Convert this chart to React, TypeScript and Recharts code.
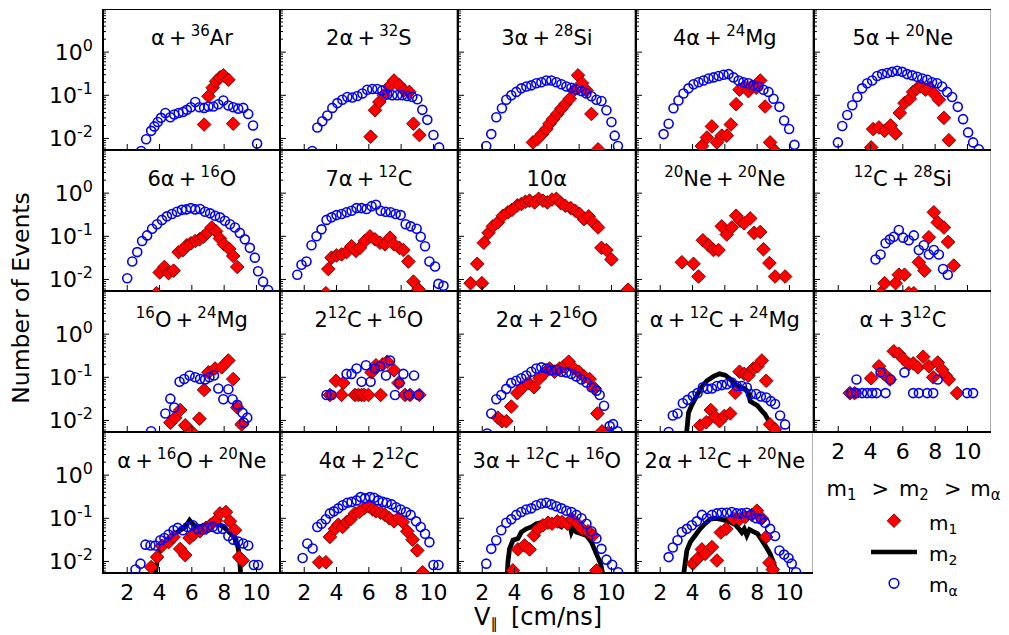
import React from 'react';
import { ComposedChart, Scatter, Line, XAxis, YAxis, ReferenceArea, Legend } from 'recharts';

const FONT = '"DejaVu Sans", sans-serif';

// grid of panels, page px
const X0 = 102.7;
const Y0 = 9.3;
const PW = 177.7;
const PH = 141;
const YW = 100;
const XH = 50;

const X_DOMAIN = [0.5, 11.5];
const Y_DOMAIN = [0.0054, 10];
const X_TICKS = [2, 4, 6, 8, 10];
const Y_TICKS = [
  0.006, 0.007, 0.008, 0.009, 0.01, 0.02, 0.03, 0.04, 0.05, 0.06, 0.07, 0.08, 0.09,
  0.1, 0.2, 0.3, 0.4, 0.5, 0.6, 0.7, 0.8, 0.9, 1, 2, 3, 4, 5, 6, 7, 8, 9, 10,
];

const TITLES = [
  'α+^{36}Ar', '2α+^{32}S', '3α+^{28}Si', '4α+^{24}Mg', '5α+^{20}Ne',
  '6α+^{16}O', '7α+^{12}C', '10α', '^{20}Ne+^{20}Ne', '^{12}C+^{28}Si',
  '^{16}O+^{24}Mg', '2^{12}C+^{16}O', '2α+2^{16}O', 'α+^{12}C+^{24}Mg', 'α+3^{12}C',
  'α+^{16}O+^{20}Ne', '4α+2^{12}C', '3α+^{12}C+^{16}O', '2α+^{12}C+^{20}Ne',
];

// [V, events] pairs
const P01_M1 = [[6.76,0.021],[7.03,0.095],[7.29,0.15],[7.5,0.21],[7.74,0.26],[7.95,0.29],[8.26,0.23],[8.56,0.022]];
const P01_MA = [[2.86,0.0051],[3.17,0.0096],[3.48,0.015],[3.68,0.019],[3.89,0.024],[4.09,0.03],[4.36,0.039],[4.67,0.031],[4.91,0.036],[5.18,0.039],[5.45,0.041],[5.69,0.046],[5.94,0.053],[6.21,0.07],[6.47,0.053],[6.76,0.051],[7.03,0.055],[7.33,0.055],[7.64,0.062],[7.95,0.076],[8.26,0.058],[8.56,0.053],[8.87,0.049],[9.18,0.051],[9.49,0.037],[9.79,0.02],[10.04,0.0076]];

const P02_M1 = [[6.11,0.011],[6.38,0.045],[6.65,0.07],[6.94,0.1],[7.27,0.16],[7.56,0.22],[7.89,0.17],[8.18,0.13],[8.51,0.12],[8.76,0.022],[9.13,0.012]];
const P02_MA = [[2.5,0.0051],[2.81,0.018],[3.12,0.025],[3.43,0.034],[3.74,0.051],[4.05,0.066],[4.36,0.079],[4.67,0.091],[4.98,0.089],[5.29,0.096],[5.6,0.11],[5.9,0.135],[6.21,0.14],[6.52,0.14],[6.83,0.13],[7.14,0.105],[7.45,0.1],[7.76,0.1],[8.07,0.1],[8.38,0.096],[8.69,0.091],[9.0,0.081],[9.31,0.046],[9.62,0.027],[10.0,0.012],[10.35,0.0062]];

const P03_M1 = [[5.14,0.0081],[5.41,0.0096],[5.7,0.0126],[5.97,0.0165],[6.17,0.022],[6.38,0.028],[6.65,0.037],[6.9,0.049],[7.15,0.063],[7.42,0.083],[7.68,0.13],[7.93,0.29],[8.18,0.19],[8.45,0.13],[8.76,0.037],[9.17,0.0056]];
const P03_MA = [[2.25,0.0067],[2.56,0.0126],[2.87,0.031],[3.22,0.05],[3.49,0.079],[3.8,0.1],[4.11,0.12],[4.42,0.145],[4.73,0.16],[5.04,0.17],[5.35,0.19],[5.66,0.2],[5.97,0.22],[6.28,0.22],[6.59,0.2],[6.9,0.18],[7.21,0.16],[7.52,0.15],[7.83,0.135],[8.14,0.125],[8.45,0.11],[8.76,0.095],[9.07,0.079],[9.38,0.074],[9.69,0.045],[10.0,0.024],[10.2,0.0116],[10.4,0.0067]];

const P04_M1 = [[4.58,0.0067],[4.89,0.0105],[5.2,0.019],[5.51,0.0081],[5.81,0.0116],[6.12,0.0116],[6.37,0.021],[6.7,0.062],[6.91,0.135],[7.2,0.16],[7.46,0.125],[7.67,0.16],[7.94,0.15],[8.19,0.22],[8.49,0.055],[8.8,0.0081],[9.11,0.0051]];
const P04_MA = [[2.21,0.0126],[2.52,0.022],[2.82,0.05],[3.13,0.076],[3.44,0.11],[3.75,0.145],[4.06,0.18],[4.37,0.2],[4.68,0.22],[4.99,0.245],[5.3,0.26],[5.61,0.28],[5.92,0.3],[6.23,0.31],[6.54,0.26],[6.85,0.22],[7.15,0.2],[7.46,0.19],[7.77,0.17],[8.08,0.16],[8.39,0.135],[8.7,0.12],[9.01,0.083],[9.38,0.054],[9.67,0.026],[9.98,0.0165],[10.31,0.0071]];

const P05_M1 = [[4.04,0.0062],[4.16,0.0165],[4.52,0.018],[4.87,0.015],[5.24,0.02],[5.55,0.013],[5.81,0.039],[6.1,0.066],[6.43,0.083],[6.64,0.12],[6.89,0.145],[7.13,0.16],[7.4,0.135],[7.67,0.15],[7.92,0.11],[8.23,0.079],[8.54,0.03],[8.85,0.0091]];
const P05_MA = [[1.98,0.0081],[2.25,0.0195],[2.56,0.035],[2.87,0.059],[3.18,0.091],[3.48,0.145],[3.79,0.19],[4.1,0.22],[4.41,0.28],[4.72,0.31],[5.03,0.33],[5.34,0.35],[5.65,0.37],[5.96,0.35],[6.27,0.31],[6.58,0.29],[6.89,0.27],[7.2,0.245],[7.51,0.23],[7.81,0.2],[8.12,0.19],[8.43,0.16],[8.74,0.12],[9.05,0.091],[9.4,0.054],[9.73,0.028],[10.04,0.0138],[10.35,0.0081],[10.7,0.0056]];

const P06_M1 = [[3.81,0.0048],[4.01,0.0145],[4.3,0.0195],[4.56,0.014],[4.87,0.016],[5.18,0.043],[5.45,0.048],[5.69,0.062],[5.94,0.069],[6.21,0.078],[6.47,0.085],[6.72,0.098],[6.96,0.12],[7.23,0.16],[7.5,0.13],[7.74,0.089],[7.99,0.065],[8.32,0.051],[8.56,0.035],[8.81,0.0195]];
const P06_MA = [[2.0,0.0107],[2.31,0.026],[2.62,0.043],[2.92,0.078],[3.23,0.105],[3.54,0.15],[3.85,0.19],[4.15,0.24],[4.46,0.29],[4.77,0.33],[5.08,0.37],[5.38,0.41],[5.65,0.42],[5.94,0.45],[6.21,0.42],[6.51,0.43],[6.82,0.37],[7.13,0.34],[7.44,0.3],[7.74,0.275],[8.05,0.23],[8.36,0.19],[8.67,0.16],[8.97,0.12],[9.28,0.085],[9.59,0.054],[9.9,0.032],[10.1,0.0155],[10.41,0.0089],[10.72,0.0057]];

const P07_M1 = [[3.34,0.0048],[3.49,0.0174],[3.69,0.032],[4.0,0.036],[4.31,0.038],[4.62,0.043],[4.93,0.059],[5.2,0.046],[5.45,0.054],[5.76,0.078],[6.07,0.1],[6.38,0.085],[6.69,0.071],[7.0,0.065],[7.31,0.093],[7.56,0.065],[7.89,0.054],[8.14,0.048],[8.45,0.026],[8.76,0.0089],[9.07,0.0059]];
const P07_MA = [[1.57,0.0129],[1.83,0.022],[2.14,0.026],[2.45,0.062],[2.76,0.1],[3.07,0.145],[3.38,0.24],[3.69,0.275],[4.0,0.31],[4.31,0.33],[4.62,0.36],[4.93,0.39],[5.24,0.45],[5.55,0.45],[5.86,0.43],[6.17,0.5],[6.44,0.54],[6.73,0.39],[7.04,0.37],[7.35,0.36],[7.66,0.33],[7.97,0.31],[8.28,0.19],[8.59,0.17],[8.96,0.15],[9.21,0.098],[9.48,0.059],[9.75,0.026],[10.1,0.02],[10.31,0.0079],[10.62,0.0071]];

const P08_M1 = [[1.28,0.0082],[1.69,0.023],[1.98,0.0082],[2.1,0.071],[2.39,0.12],[2.66,0.17],[2.97,0.21],[3.28,0.3],[3.59,0.36],[3.84,0.41],[4.17,0.52],[4.42,0.56],[4.67,0.63],[4.93,0.67],[5.24,0.61],[5.49,0.74],[5.76,0.67],[6.03,0.61],[6.32,0.71],[6.59,0.74],[6.86,0.59],[7.14,0.51],[7.48,0.45],[7.76,0.39],[8.03,0.33],[8.3,0.25],[8.59,0.29],[8.86,0.21],[9.17,0.16],[9.38,0.054],[9.69,0.048],[10.0,0.029],[11.03,0.0058]];

const P09_M1 = [[3.34,0.025],[4.06,0.023],[4.37,0.0117],[4.64,0.081],[4.99,0.062],[5.3,0.048],[5.61,0.048],[5.81,0.17],[6.12,0.11],[6.43,0.16],[6.7,0.3],[6.95,0.23],[7.2,0.2],[7.57,0.26],[7.81,0.12],[8.19,0.126],[8.39,0.05],[8.76,0.024],[9.11,0.0117],[9.73,0.0117]];

const P10_M1 = [[4.62,0.0048],[4.87,0.0082],[5.55,0.0082],[5.75,0.0129],[6.1,0.0129],[6.37,0.0048],[6.68,0.0048],[6.99,0.025],[7.34,0.016],[7.61,0.095],[7.92,0.36],[8.16,0.21],[8.54,0.16],[8.8,0.074],[9.15,0.021]];
const P10_MA = [[4.31,0.029],[4.62,0.038],[4.93,0.069],[5.2,0.085],[5.44,0.098],[5.75,0.14],[6.02,0.093],[6.37,0.081],[6.68,0.105],[6.99,0.048],[7.3,0.062],[7.61,0.038],[7.92,0.048],[8.23,0.038],[8.49,0.0174],[8.78,0.0129]];

const P11_M1 = [[4.67,0.0089],[4.97,0.0116],[5.28,0.0174],[5.59,0.0077],[6.0,0.0054],[6.47,0.011],[6.76,0.051],[7.03,0.13],[7.44,0.16],[7.85,0.17],[8.26,0.245],[8.56,0.091],[8.81,0.02],[9.08,0.0081]];
const P11_MA = [[3.48,0.0056],[4.36,0.0145],[4.67,0.032],[4.91,0.02],[5.24,0.079],[5.53,0.091],[5.86,0.11],[6.21,0.1],[6.51,0.091],[6.82,0.089],[7.09,0.1],[7.37,0.11],[7.64,0.055],[7.95,0.031],[8.26,0.053],[8.52,0.031],[8.81,0.023],[9.14,0.015],[9.43,0.0116],[9.22,0.0089]];

const P12_M1 = [[3.59,0.039],[3.96,0.083],[4.31,0.039],[4.42,0.074],[5.14,0.039],[5.35,0.039],[5.55,0.039],[5.7,0.039],[5.97,0.039],[6.17,0.13],[6.44,0.19],[6.73,0.039],[6.86,0.2],[7.14,0.23],[7.56,0.145],[7.83,0.074],[8.24,0.039],[8.55,0.039],[9.13,0.039]];
const P12_MA = [[3.38,0.039],[3.69,0.039],[4.62,0.12],[4.93,0.12],[5.24,0.16],[5.55,0.079],[5.82,0.19],[6.11,0.079],[6.38,0.16],[6.69,0.18],[7.06,0.11],[7.31,0.245],[7.62,0.039],[7.89,0.074],[8.14,0.12],[8.45,0.039],[8.8,0.11],[9.07,0.039]];

const P13_M1 = [[2.97,0.0116],[3.22,0.0096],[3.49,0.0096],[3.8,0.021],[4.17,0.043],[4.52,0.059],[4.87,0.074],[5.2,0.059],[5.55,0.095],[5.86,0.126],[6.17,0.16],[6.48,0.135],[6.79,0.16],[7.06,0.18],[7.35,0.23],[7.68,0.16],[7.97,0.135],[8.3,0.105],[8.65,0.091],[8.96,0.055],[9.13,0.0145],[9.42,0.0056],[9.75,0.005]];
const P13_MA = [[2.31,0.005],[2.56,0.0145],[2.87,0.031],[3.18,0.039],[3.49,0.054],[3.8,0.074],[4.11,0.083],[4.42,0.095],[4.73,0.11],[5.04,0.135],[5.35,0.16],[5.66,0.17],[5.97,0.16],[6.28,0.145],[6.59,0.15],[6.9,0.135],[7.21,0.13],[7.52,0.12],[7.83,0.105],[8.14,0.089],[8.45,0.076],[8.76,0.059],[9.07,0.049],[9.27,0.039],[9.54,0.022],[9.89,0.0074],[10.1,0.0082],[10.37,0.0056]];

const P14_M1 = [[4.47,0.0076],[4.85,0.0091],[5.13,0.0174],[5.4,0.0122],[5.67,0.0096],[5.96,0.0126],[6.33,0.0145],[6.64,0.044],[6.91,0.135],[7.2,0.12],[7.46,0.11],[7.77,0.16],[8.02,0.18],[8.29,0.245],[8.56,0.083],[8.8,0.0081],[9.11,0.0062]];
const P14_M2 = [[3.55,0.002],[3.61,0.0043],[3.75,0.015],[3.96,0.023],[4.27,0.038],[4.58,0.061],[4.89,0.083],[5.3,0.105],[5.67,0.12],[6.02,0.112],[6.33,0.091],[6.64,0.069],[6.95,0.059],[7.26,0.054],[7.46,0.043],[7.57,0.028],[7.77,0.025],[8.02,0.022],[8.29,0.0166],[8.49,0.0138],[8.7,0.01],[8.91,0.0081],[9.11,0.0063],[9.22,0.0043],[9.3,0.002]];
const P14_MA = [[2.52,0.0054],[2.78,0.013],[3.07,0.0145],[3.4,0.025],[3.69,0.03],[4.02,0.037],[4.31,0.043],[4.64,0.059],[4.93,0.054],[5.2,0.055],[5.51,0.063],[5.81,0.066],[6.12,0.069],[6.43,0.076],[6.74,0.063],[7.05,0.063],[7.36,0.058],[7.61,0.041],[7.94,0.041],[8.23,0.036],[8.56,0.034],[8.85,0.028],[9.11,0.024],[9.42,0.013],[9.73,0.0081]];

const P15_M1 = [[2.72,0.043],[3.01,0.043],[4.04,0.095],[4.52,0.18],[4.82,0.12],[5.2,0.089],[5.44,0.4],[5.75,0.35],[6.02,0.27],[6.37,0.2],[6.64,0.21],[6.93,0.17],[7.26,0.3],[7.61,0.18],[7.88,0.1],[8.16,0.22],[8.43,0.15],[8.64,0.11],[8.85,0.089],[9.36,0.043]];
const P15_MA = [[2.8,0.043],[3.13,0.089],[3.13,0.043],[3.48,0.043],[3.79,0.043],[4.1,0.043],[4.37,0.043],[4.62,0.13],[4.93,0.043],[5.24,0.089],[6.1,0.13],[6.64,0.043],[6.99,0.043],[7.51,0.043],[7.88,0.043],[8.16,0.089],[9.98,0.043],[10.35,0.043]];

const P16_M1 = [[3.48,0.0074],[3.85,0.0126],[4.15,0.023],[4.56,0.028],[4.87,0.037],[5.28,0.0195],[5.59,0.014],[5.86,0.035],[6.1,0.042],[6.51,0.05],[6.88,0.06],[7.17,0.071],[7.5,0.089],[7.74,0.13],[8.11,0.14],[8.36,0.085],[8.67,0.053],[8.93,0.0126],[9.14,0.0105]];
const P16_M2 = [[3.7,0.002],[3.74,0.0052],[3.89,0.0126],[4.05,0.0196],[4.26,0.027],[4.56,0.034],[4.87,0.042],[5.28,0.053],[5.59,0.063],[5.86,0.09],[6.1,0.071],[6.41,0.06],[6.72,0.069],[7.03,0.075],[7.33,0.095],[7.64,0.075],[7.95,0.063],[8.26,0.05],[8.56,0.039],[8.81,0.026],[8.93,0.015],[9.02,0.0052],[9.05,0.002]];
const P16_MA = [[2.51,0.0065],[2.82,0.0089],[3.13,0.0245],[3.44,0.0235],[3.74,0.0235],[4.05,0.031],[4.3,0.035],[4.56,0.042],[4.87,0.053],[5.12,0.06],[5.45,0.053],[5.73,0.063],[6.06,0.069],[6.35,0.057],[6.68,0.055],[6.96,0.06],[7.29,0.063],[7.58,0.057],[7.91,0.057],[8.26,0.039],[8.56,0.032],[8.87,0.029],[9.18,0.026],[9.49,0.0235],[9.84,0.0083],[10.1,0.0083]];

const P17_M1 = [[2.93,0.0096],[3.34,0.0096],[3.59,0.037],[3.9,0.057],[4.11,0.071],[4.38,0.063],[4.62,0.082],[4.87,0.095],[5.14,0.13],[5.41,0.14],[5.7,0.17],[5.97,0.19],[6.24,0.16],[6.44,0.145],[6.73,0.135],[7.0,0.12],[7.27,0.1],[7.56,0.085],[7.83,0.1],[8.1,0.082],[8.38,0.05],[8.71,0.032],[9.0,0.018],[9.33,0.0056]];
const P17_MA = [[1.9,0.012],[2.19,0.026],[2.52,0.02],[2.81,0.063],[3.07,0.075],[3.34,0.095],[3.59,0.13],[3.84,0.145],[4.11,0.17],[4.38,0.2],[4.67,0.23],[4.93,0.24],[5.24,0.26],[5.49,0.31],[5.76,0.29],[6.07,0.31],[6.32,0.3],[6.59,0.26],[6.86,0.24],[7.1,0.23],[7.41,0.21],[7.68,0.18],[7.97,0.16],[8.3,0.14],[8.59,0.12],[8.92,0.085],[9.21,0.063],[9.48,0.044],[9.75,0.028],[10.0,0.0083],[10.31,0.0083]];

const P18_M1 = [[3.9,0.0062],[4.21,0.019],[4.62,0.0235],[4.93,0.019],[5.2,0.04],[5.45,0.057],[5.76,0.069],[6.07,0.079],[6.32,0.075],[6.65,0.085],[6.94,0.082],[7.27,0.075],[7.56,0.095],[7.89,0.075],[8.18,0.057],[8.55,0.05],[8.86,0.04],[9.07,0.0062]];
const P18_M2 = [[3.5,0.002],[3.55,0.0047],[3.59,0.0096],[3.69,0.0196],[3.9,0.031],[4.21,0.034],[4.42,0.048],[4.73,0.057],[5.04,0.063],[5.35,0.075],[5.66,0.079],[5.97,0.082],[6.28,0.085],[6.59,0.075],[6.9,0.063],[7.14,0.079],[7.35,0.09],[7.52,0.048],[7.68,0.066],[7.83,0.048],[8.14,0.044],[8.45,0.04],[8.76,0.028],[9.07,0.015],[9.33,0.0089],[9.48,0.0047],[9.55,0.002]];
const P18_MA = [[2.25,0.0089],[2.56,0.0196],[2.87,0.031],[3.18,0.053],[3.49,0.079],[3.8,0.095],[4.11,0.12],[4.42,0.14],[4.73,0.16],[5.04,0.17],[5.35,0.2],[5.66,0.22],[5.97,0.23],[6.28,0.21],[6.59,0.19],[6.9,0.17],[7.21,0.15],[7.52,0.14],[7.83,0.12],[8.14,0.1],[8.45,0.075],[8.76,0.05],[9.07,0.034],[9.38,0.0196],[9.69,0.011],[10.04,0.0084],[10.41,0.0056]];

const P19_M1 = [[4.02,0.0089],[4.31,0.0116],[4.58,0.019],[4.78,0.015],[5.2,0.0215],[5.51,0.0105],[5.75,0.047],[6.08,0.057],[6.54,0.098],[6.91,0.095],[7.26,0.107],[7.67,0.12],[7.98,0.15],[8.29,0.1],[8.56,0.037],[8.76,0.0093],[8.97,0.0065]];
const P19_M2 = [[3.4,0.002],[3.44,0.0047],[3.55,0.0096],[3.65,0.018],[3.86,0.028],[4.16,0.04],[4.47,0.057],[4.78,0.075],[5.09,0.095],[5.4,0.1],[5.71,0.095],[6.02,0.09],[6.33,0.082],[6.64,0.071],[6.91,0.055],[7.05,0.047],[7.2,0.057],[7.36,0.04],[7.53,0.055],[7.73,0.05],[8.02,0.044],[8.29,0.031],[8.56,0.0215],[8.8,0.015],[9.01,0.0096],[9.22,0.0047],[9.3,0.002]];
const P19_MA = [[2.52,0.0126],[2.78,0.021],[3.07,0.031],[3.34,0.048],[3.65,0.057],[3.96,0.069],[4.27,0.085],[4.58,0.12],[4.89,0.1],[5.2,0.12],[5.51,0.13],[5.81,0.135],[6.12,0.135],[6.43,0.14],[6.74,0.13],[7.05,0.13],[7.36,0.135],[7.61,0.12],[7.94,0.1],[8.23,0.095],[8.49,0.079],[8.8,0.057],[9.11,0.039],[9.38,0.018],[9.67,0.0144],[9.94,0.012],[10.14,0.0089],[10.41,0.0056]];

const M1 = [P01_M1, P02_M1, P03_M1, P04_M1, P05_M1, P06_M1, P07_M1, P08_M1, P09_M1, P10_M1,
  P11_M1, P12_M1, P13_M1, P14_M1, P15_M1, P16_M1, P17_M1, P18_M1, P19_M1];
const M2: (number[][] | null)[] = [null, null, null, null, null, null, null, null, null, null,
  null, null, null, P14_M2, null, P16_M2, null, P18_M2, P19_M2];
const MA: (number[][] | null)[] = [P01_MA, P02_MA, P03_MA, P04_MA, P05_MA, P06_MA, P07_MA, null, null, P10_MA,
  P11_MA, P12_MA, P13_MA, P14_MA, P15_MA, P16_MA, P17_MA, P18_MA, P19_MA];

const SERIES_NAMES = ['m1', 'm2', 'mα'];

const toPts = (a: number[][]) => a.map(([x, y]) => ({ x, y }));

const RED = '#ff0000';
const RED_EDGE = '#8b0000';
const BLUE = '#0000ff';

function Diamond(props: any) {
  const { cx, cy } = props;
  if (cx == null || cy == null) return <g />;
  const s = 6.8;
  return (
    <polygon
      points={`${cx},${cy - s} ${cx + s},${cy} ${cx},${cy + s} ${cx - s},${cy}`}
      fill={RED}
      stroke={RED_EDGE}
      strokeWidth={1}
    />
  );
}

function Ring(props: any) {
  const { cx, cy } = props;
  if (cx == null || cy == null) return <g />;
  return <circle cx={cx} cy={cy} r={4.5} fill="none" stroke={BLUE} strokeWidth={1.6} />;
}

function xTick(show: boolean) {
  return (props: any) => {
    const { x, y, payload } = props;
    return (
      <g>
        <line x1={x} y1={y} x2={x} y2={y - 6} stroke="#000" strokeWidth={1} />
        {show && (
          <text x={x} y={y + 27} textAnchor="middle" fontSize={22} fontFamily={FONT} fill="#000">
            {payload.value}
          </text>
        )}
      </g>
    );
  };
}

function yTick(show: boolean) {
  return (props: any) => {
    const { x, y, payload } = props;
    const e = Math.log10(payload.value);
    const major = Math.abs(e - Math.round(e)) < 1e-6;
    return (
      <g>
        <line x1={x} y1={y} x2={x + (major ? 6 : 3)} y2={y} stroke="#000" strokeWidth={1} />
        {show && major && payload.value < 5 && (
          <text x={x - 10} y={y + 8} textAnchor="end" fontSize={22} fontFamily={FONT} fill="#000">
            10<tspan dy={-9} fontSize={16}>{String(Math.round(e))}</tspan>
          </text>
        )}
      </g>
    );
  };
}

function titleSpans(s: string) {
  const parts = s.split(/(\^\{[^}]*\})/).filter(Boolean);
  let up = false;
  return parts.map((p, k) => {
    if (p.startsWith('^{')) {
      const dy = up ? 0 : -9;
      up = true;
      return <tspan key={k} dy={dy} fontSize={15}>{p.slice(2, -1)}</tspan>;
    }
    const dy = up ? 9 : 0;
    up = false;
    return <tspan key={k} dy={dy}>{p.replace(/\+/g, '\u2009+\u2009')}</tspan>;
  });
}

function Sub({ name, x, y, size, subSize }: any) {
  return (
    <text x={x} y={y} fontSize={size} fontFamily={FONT} fill="#000">
      {name[0]}
      <tspan dy={4} fontSize={subSize}>{name.slice(1)}</tspan>
    </text>
  );
}

// legend placed in the empty lower-right cell
const LEG_X = 820;
const LEG_Y = 462;

function renderLegend(props: any) {
  const items = [...(props.payload || [])].sort(
    (a: any, b: any) => SERIES_NAMES.indexOf(a.value) - SERIES_NAMES.indexOf(b.value),
  );
  const headX = [6.5, 78.9, 150.2];
  return (
    <svg width={192} height={140} style={{ display: 'block', overflow: 'visible' }}>
      {SERIES_NAMES.map((n, k) => (
        <g key={n}>
          <Sub name={n} x={headX[k]} y={34} size={21} subSize={15} />
          {k < 2 && (
            <text x={headX[k] + 45} y={34} fontSize={21} fontFamily={FONT}>&gt;</text>
          )}
        </g>
      ))}
      {items.map((it: any, k: number) => {
        const cy = 58.7 + k * 31.3;
        let icon = null;
        if (it.value === 'm1') {
          icon = <Diamond cx={74} cy={cy} />;
        } else if (it.value === 'm2') {
          icon = <line x1={51} x2={97} y1={cy} y2={cy} stroke="#000" strokeWidth={4.5} />;
        } else {
          icon = <circle cx={74} cy={cy} r={4.8} fill="none" stroke={BLUE} strokeWidth={1.6} />;
        }
        return (
          <g key={it.value}>
            {icon}
            <Sub name={it.value} x={109} y={cy + 9} size={20} subSize={14} />
          </g>
        );
      })}
    </svg>
  );
}

function Panel({ i }: { i: number }) {
  const r = Math.floor(i / 5);
  const c = i % 5;
  const showX = r === 3 || (r === 2 && c === 4);
  const showY = c === 0;
  const left = X0 + c * PW - YW;
  const top = Y0 + r * PH;
  const m1 = toPts(M1[i]);
  const m2 = M2[i] ? toPts(M2[i] as number[][]) : null;
  const ma = MA[i] ? toPts(MA[i] as number[][]) : null;
  return (
    <div style={{ position: 'absolute', left, top }}>
      <ComposedChart width={YW + PW} height={PH + XH} margin={{ top: 0, right: 0, bottom: 0, left: 0 }}>
        <XAxis
          type="number"
          dataKey="x"
          domain={X_DOMAIN}
          ticks={X_TICKS}
          interval={0}
          allowDataOverflow
          height={XH}
          tickSize={0}
          tickMargin={0}
          axisLine={false}
          tickLine={false}
          tick={xTick(showX)}
        />
        <YAxis
          type="number"
          dataKey="y"
          scale="log"
          domain={Y_DOMAIN}
          ticks={Y_TICKS}
          interval={0}
          allowDataOverflow
          width={YW}
          tickSize={0}
          tickMargin={0}
          axisLine={false}
          tickLine={false}
          tick={yTick(showY)}
        />
        <Scatter name="m1" data={m1} shape={Diamond} legendType="diamond" fill={RED} isAnimationActive={false} />
        {m2 && (
          <Line
            name="m2"
            data={m2}
            dataKey="y"
            type="linear"
            stroke="#000"
            strokeWidth={4.8}
            dot={false}
            activeDot={false}
            legendType="line"
            isAnimationActive={false}
          />
        )}
        {ma && <Scatter name="mα" data={ma} shape={Ring} legendType="circle" fill={BLUE} isAnimationActive={false} />}
        <ReferenceArea
          x1={X_DOMAIN[0]}
          x2={X_DOMAIN[1]}
          y1={Y_DOMAIN[0]}
          y2={Y_DOMAIN[1]}
          fill="none"
          fillOpacity={0}
          stroke="#000"
          strokeWidth={2}
        />
        <text x={YW + PW / 2} y={36} textAnchor="middle" fontSize={21} fontFamily={FONT} fill="#000">
          {titleSpans(TITLES[i])}
        </text>
        {i === 18 && (
          <Legend
            content={renderLegend}
            layout="vertical"
            align="center"
            verticalAlign="middle"
            wrapperStyle={{ position: 'absolute', left: LEG_X - left, top: LEG_Y - top, width: 192, height: 140 }}
          />
        )}
      </ComposedChart>
    </div>
  );
}

export default function App() {
  return (
    <div style={{ position: 'absolute', left: 0, top: 0, width: 1009, height: 635, background: '#fff', fontFamily: FONT }}>
      {TITLES.map((_, i) => (
        <Panel key={i} i={i} />
      ))}
      <svg width={1009} height={635} style={{ position: 'absolute', left: 0, top: 0, pointerEvents: 'none' }}>
        <text
          x={29.3}
          y={298}
          transform="rotate(-90 29.3 298)"
          textAnchor="middle"
          fontSize={23.5}
          fontFamily={FONT}
          fill="#000"
        >
          Number of Events
        </text>
        <text x={474} y={625} fontSize={24} fontFamily={FONT} fill="#000">
          V<tspan dy={4} fontSize={15}>∥</tspan>
          <tspan x={511} dy={-4}>[cm/ns]</tspan>
        </text>
      </svg>
    </div>
  );
}
